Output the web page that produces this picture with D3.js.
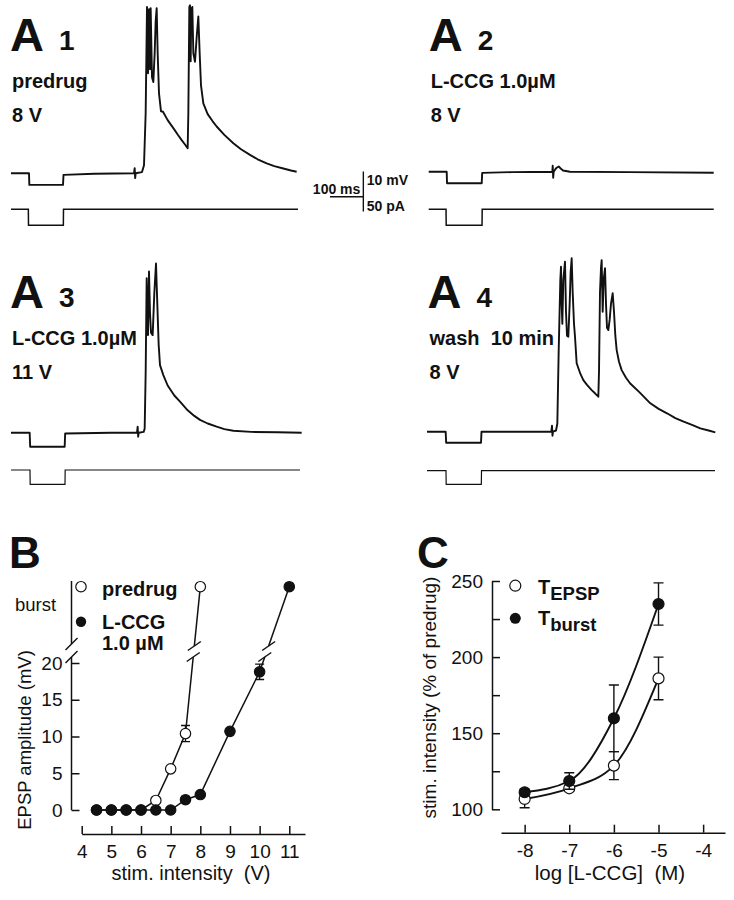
<!DOCTYPE html>
<html><head><meta charset="utf-8">
<script src="https://cdn.jsdelivr.net/npm/d3@7"></script>
<style>
body{margin:0;background:#fff}
svg{display:block}
text{font-family:"Liberation Sans",Arial,Helvetica,sans-serif;fill:#111;white-space:pre}
</style></head>
<body><svg id="c" width="734" height="900"></svg>
<script>
// ---------- DATA ----------
// Traces: [time (ms), membrane potential (mV, relative to rest)]
const a1Volt = [[0,0],[54,0],[55,-2.9],[156,-2.9],[157.5,-0.4],[250,-0.1],[369,0],[371,1.3],[372.5,-1.2],[374,0],[393,0.3],[399,2],[404,15],[408,41.6],[411,25],[414,41],[417,26],[419,41.3],[423,24],[427,22.8],[431,30],[434,38],[437,41.3],[440,30],[444,20],[450,15.5],[456,15.4],[470,13.3],[487,11.3],[500,9.7],[512,8.3],[522,7.2],[530,6.25],[532,15],[535,41.6],[537,42],[539,28],[541,41],[544,41.6],[547,30],[552,27.9],[557,34],[562,39.2],[566,30],[570,22],[577,17.5],[590,14.8],[605,13],[617,11.7],[640,9.6],[667,7.5],[690,6],[717,4.6],[740,3.5],[767,2.5],[790,1.8],[817,1.2],[840,0.7],[857,0.4]];
const a2Volt = [[0,0],[54,0],[55,-2.9],[159,-2.9],[160.5,-0.3],[250,-0.1],[371,0],[372,1.5],[373.5,-1.5],[375,0],[379,0.5],[384,1],[390,1.3],[396,0.8],[403,0.3],[424,0],[600,-0.1],[855,-0.25]];
const a3Volt = [[0,0],[56,0],[57.5,-3.5],[161,-3.5],[162.5,-0.2],[300,0],[378,0],[380,1.5],[381.5,-1],[383,0],[398,0.2],[401,1],[404,15],[407,38.6],[409,30],[411,24.4],[414,40.3],[417,30],[420,25],[425,24.4],[430,35],[435,42.3],[439,32],[443,22],[447,16.9],[457,14.4],[470,11.8],[490,9.3],[507,7.75],[530,5.6],[550,4.2],[567,3.2],[590,2.3],[617,1.5],[640,0.9],[667,0.5],[720,0.2],[800,0.1],[872,0]];
const a4Volt = [[0,0],[56,0],[57.5,-2.75],[162,-2.75],[163.5,0],[300,0],[373,0],[375,1.5],[376.5,-1],[378,0],[387,0.3],[391,2],[395,20],[400,38],[402,41.25],[404,32],[406,27],[409,38],[414,42.5],[417,30],[420,24],[424,23.75],[428,32],[431,40],[434,43.35],[437,35],[441,27],[444,23.75],[449,17.1],[460,14.5],[469,12.9],[480,11.7],[494,10.4],[504,9.6],[514,8.75],[516,15],[519,35],[522,41],[524,42.9],[527,30],[530,38],[534,40.85],[537,32],[540,26],[544,25.4],[548,28],[552,32],[557,34.6],[561,30],[565,24],[569,20.4],[576,17.5],[584,15.4],[597,13.5],[609,12.1],[620,11.25],[637,9.9],[670,7.1],[695,5.7],[720,4.6],[745,3.4],[770,2.5],[795,1.7],[820,0.85],[845,0.3],[865,-0.15]];
// Injected current: [time (ms), current (pA)]
const a1Curr = [[0,0],[52,0],[52.5,-20],[157,-20],[157.5,0],[861,0]];
const a2Curr = [[0,0],[52,0],[52.5,-20],[160,-20],[160.5,0],[855,0]];
const a3Curr = [[0,0],[57,0],[57.5,-18],[162,-18],[162.5,0],[867,0]];
const a4Curr = [[0,0],[57,0],[57.5,-17],[163,-17],[163.5,0],[864,0]];
const traceTitles = ["1","2","3","4"];
const traceLabels = [["predrug","8 V"],["L-CCG 1.0µM","8 V"],["L-CCG 1.0µM","11 V"],["wash  10 min","8 V"]];
const scaleBarTime = 100;   // ms
const scaleBarVolt = 10;    // mV
const scaleBarCurr = 50;    // pA
const scaleBarLabels = ["100 ms","10 mV","50 pA"];

// Panel B
const bXTicks = [4,5,6,7,8,9,10,11];
const bYTicks = [0,5,10,15,20];
const predrugX = [4.5,5,5.5,6,6.5,7,7.5,8];
const predrugY = [0,0,0,0,1.3,5.6,10.4,"burst"];
const predrugErr = [0,0,0,0,0,0,1.1,0];
const lccgX = [4.5,5,5.5,6,6.5,7,7.5,8,9,10,11];
const lccgY = [0,0,0,0,0,0,1.4,2.1,10.7,18.8,"burst"];
const lccgErr = [0,0,0,0,0,0,0,0,0,1.05,0];
const bLegend = ["predrug","L-CCG","1.0 µM"];

// Panel C
const cXTicks = [-8,-7,-6,-5,-4];
const cYTicks = [100,125,150,175,200,225,250];
const cYLabelled = [100,150,200,250];
const cLogConc = [-8,-7,-6,-5];
const tEpsp = [106.8,113.8,128.7,186];
const tEpspErr = [5.8,1.5,9.2,14];
const tBurst = [111.2,118.6,159.8,234.9];
const tBurstErr = [2,5.4,21.9,13.9];

// ---------- DRAWING ----------
const svg = d3.select("#c");
const INK = "#111";

function txt(x, y, s, size, weight, anchor) {
  return svg.append("text").attr("x", x).attr("y", y).text(s)
    .attr("font-size", size).attr("font-weight", weight || "normal")
    .attr("text-anchor", anchor || "start").attr("xml:space", "preserve");
}

// Trace panels
const tracePanels = [
  {x0: 11,    vBase: 173.3, iBase: 209.3, volt: a1Volt, curr: a1Curr, lx: 10,    ly: 51,  vw: 1.9, iw: 1.5},
  {x0: 428.7, vBase: 171.7, iBase: 209.3, volt: a2Volt, curr: a2Curr, lx: 428.7, ly: 51,  vw: 1.9, iw: 1.5},
  {x0: 11,    vBase: 432.7, iBase: 470,   volt: a3Volt, curr: a3Curr, lx: 10,    ly: 308, vw: 1.9, iw: 1.2},
  {x0: 427,   vBase: 431.7, iBase: 470.7, volt: a4Volt, curr: a4Curr, lx: 427.5, ly: 308, vw: 1.9, iw: 1.2}
];
tracePanels.forEach((p, k) => {
  const x = d3.scaleLinear().domain([0, 100]).range([p.x0, p.x0 + 100/3]);
  const yv = d3.scaleLinear().domain([0, 10]).range([p.vBase, p.vBase - 40]);
  const yi = d3.scaleLinear().domain([0, 50]).range([p.iBase, p.iBase - 40]);
  svg.append("path").attr("d", d3.line().x(d => x(d[0])).y(d => yv(d[1]))(p.volt))
    .attr("fill", "none").attr("stroke", INK).attr("stroke-width", p.vw).attr("stroke-linejoin", "round");
  svg.append("path").attr("d", d3.line().x(d => x(d[0])).y(d => yi(d[1]))(p.curr))
    .attr("fill", "none").attr("stroke", INK).attr("stroke-width", p.iw);
  txt(p.lx, p.ly, "A", 47, "bold");
  txt(p.lx + 49, p.ly - 1, traceTitles[k], 28, "bold");
  txt(p.lx + 2, p.ly + 37, traceLabels[k][0], 20, "bold");
  txt(p.lx + 2, p.ly + 70.5, traceLabels[k][1], 20, "bold");
});

// Scale bar
{
  const sx = d3.scaleLinear().domain([0, 100]).range([330, 330 + 100/3]);
  const sv = d3.scaleLinear().domain([0, 10]).range([211.5, 171.5]);
  const xEnd = sx(scaleBarTime);
  svg.append("line").attr("x1", sx(0)).attr("x2", xEnd).attr("y1", 196.7).attr("y2", 196.7)
    .attr("stroke", INK).attr("stroke-width", 1.4);
  svg.append("line").attr("x1", xEnd).attr("x2", xEnd).attr("y1", sv(0)).attr("y2", sv(scaleBarVolt))
    .attr("stroke", INK).attr("stroke-width", 1.4);
  txt(xEnd - 3, 194, scaleBarLabels[0], 14, "bold", "end");
  txt(xEnd + 3.5, 185, scaleBarLabels[1], 14, "bold");
  txt(xEnd + 3.5, 210.5, scaleBarLabels[2], 14, "bold");
}

// ---------- Panel B ----------
const xB = d3.scaleLinear().domain([4, 11.53]).range([81.7, 305]);
const yB = d3.scaleLinear().domain([0, 20]).range([810, 663]);
const yBurst = 586.7;
const yOf = v => v === "burst" ? yBurst : yB(v);
const axB = 71.5, xAxYB = 834;

txt(9, 568, "B", 44, "bold");

const gxB = svg.append("g").attr("transform", `translate(0,${xAxYB})`)
  .call(d3.axisBottom(xB).tickValues(bXTicks).tickSizeInner(-8).tickSizeOuter(0).tickPadding(10.5));
const gyB = svg.append("g").attr("transform", `translate(${axB},0)`)
  .call(d3.axisLeft(yB).tickValues(bYTicks).tickSizeInner(-8).tickSizeOuter(0).tickPadding(9));
gyB.select(".domain").remove();
[gxB, gyB].forEach(g => {
  g.selectAll("text").attr("font-size", 19).attr("fill", INK)
    .attr("font-family", '"Liberation Sans",Arial,sans-serif');
  g.selectAll("line,path").attr("stroke", INK).attr("stroke-width", 1.5);
});
svg.append("line").attr("x1", axB).attr("x2", axB).attr("y1", yB(0)).attr("y2", 657)
  .attr("stroke", INK).attr("stroke-width", 1.5);
svg.append("line").attr("x1", axB).attr("x2", axB).attr("y1", 644).attr("y2", 581)
  .attr("stroke", INK).attr("stroke-width", 1.5);
[644, 657].forEach(y => {
  svg.append("line").attr("x1", axB - 6).attr("x2", axB + 6).attr("y1", y + 6).attr("y2", y - 6)
    .attr("stroke", INK).attr("stroke-width", 1.5);
});

txt(15, 611, "burst", 18.5, "normal");
svg.append("text").attr("transform", "translate(31,740) rotate(-90)")
  .attr("text-anchor", "middle").attr("font-size", 18.5).text("EPSP amplitude (mV)");
txt(191, 880, "stim. intensity  (V)", 20, "normal", "middle");

function drawBSeries(xs, ys, errs, filled) {
  const pts = xs.map((x, i) => ({x: xB(x), y: yOf(ys[i]), v: ys[i], e: errs[i]}));
  const n = pts.length;
  const main = pts.slice(0, n - 1);
  const a = pts[n - 2], b = pts[n - 1];
  const at = yy => ({x: a.x + (b.x - a.x) * (yy - a.y) / (b.y - a.y), y: yy});
  const pLow = at(657), pHigh = at(646);
  const line = d3.line().x(d => d.x).y(d => d.y);
  svg.append("path").attr("d", line(main.concat([pLow]))).attr("fill", "none").attr("stroke", INK).attr("stroke-width", 1.5);
  svg.append("path").attr("d", line([pHigh, b])).attr("fill", "none").attr("stroke", INK).attr("stroke-width", 1.5);
  [pLow, pHigh].forEach(p => {
    svg.append("line").attr("x1", p.x - 6.5).attr("x2", p.x + 6.5).attr("y1", p.y + 4.5).attr("y2", p.y - 4.5)
      .attr("stroke", INK).attr("stroke-width", 1.5);
  });
  pts.forEach(p => {
    if (p.e > 0) {
      const y1 = yB(p.v - p.e), y2 = yB(p.v + p.e);
      svg.append("path").attr("d", `M${p.x},${y1}V${y2}M${p.x - 4.5},${y1}H${p.x + 4.5}M${p.x - 4.5},${y2}H${p.x + 4.5}`)
        .attr("stroke", INK).attr("stroke-width", 1.4).attr("fill", "none");
    }
  });
  pts.forEach(p => {
    svg.append("circle").attr("cx", p.x).attr("cy", p.y).attr("r", 5.2)
      .attr("fill", filled ? INK : "#fff").attr("stroke", INK).attr("stroke-width", 1.2);
  });
}
drawBSeries(predrugX, predrugY, predrugErr, false);
drawBSeries(lccgX, lccgY, lccgErr, true);

svg.append("circle").attr("cx", 81).attr("cy", 586.7).attr("r", 5.2).attr("fill", "#fff").attr("stroke", INK).attr("stroke-width", 1.2);
svg.append("circle").attr("cx", 81).attr("cy", 621.7).attr("r", 5.2).attr("fill", INK);
txt(102, 595.5, bLegend[0], 20, "bold");
txt(102, 629, bLegend[1], 20, "bold");
txt(102, 650, bLegend[2], 20, "bold");

// ---------- Panel C ----------
const xC = d3.scaleLinear().domain([-8.53, -3.51]).range([501, 725]);
const yC = d3.scaleLinear().domain([100, 250]).range([809.3, 581]);
const axC = 492;
txt(417, 568, "C", 44, "bold");

const gxC = svg.append("g").attr("transform", "translate(0,832.7)")
  .call(d3.axisBottom(xC).tickValues(cXTicks).tickSizeInner(-8).tickSizeOuter(0).tickPadding(10.5).tickFormat(d => d));
const gyC = svg.append("g").attr("transform", `translate(${axC},0)`)
  .call(d3.axisLeft(yC).tickValues(cYTicks).tickSizeInner(-8).tickSizeOuter(0).tickPadding(9)
    .tickFormat(d => cYLabelled.includes(d) ? d : ""));
[gxC, gyC].forEach(g => {
  g.selectAll("text").attr("font-size", 19).attr("fill", INK)
    .attr("font-family", '"Liberation Sans",Arial,sans-serif');
  g.selectAll("line,path").attr("stroke", INK).attr("stroke-width", 1.5);
});
svg.append("text").attr("transform", "translate(436,697.5) rotate(-90)")
  .attr("text-anchor", "middle").attr("font-size", 19).text("stim. intensity (% of predrug)");
txt(610, 880, "log [L-CCG]  (M)", 20.5, "normal", "middle");

function drawCSeries(ys, errs, filled) {
  const pts = cLogConc.map((x, i) => ({x: xC(x), y: yC(ys[i]), v: ys[i], e: errs[i]}));
  svg.append("path").attr("d", d3.line().x(d => d.x).y(d => d.y).curve(d3.curveMonotoneX)(pts))
    .attr("fill", "none").attr("stroke", INK).attr("stroke-width", 1.9);
  pts.forEach(p => {
    const y1 = yC(p.v - p.e), y2 = yC(p.v + p.e);
    svg.append("path").attr("d", `M${p.x},${y1}V${y2}M${p.x - 5},${y1}H${p.x + 5}M${p.x - 5},${y2}H${p.x + 5}`)
      .attr("stroke", INK).attr("stroke-width", 1.4).attr("fill", "none");
  });
  pts.forEach(p => {
    svg.append("circle").attr("cx", p.x).attr("cy", p.y).attr("r", 5.5)
      .attr("fill", filled ? INK : "#fff").attr("stroke", INK).attr("stroke-width", 1.2);
  });
}
drawCSeries(tEpsp, tEpspErr, false);
drawCSeries(tBurst, tBurstErr, true);

svg.append("circle").attr("cx", 515.3).attr("cy", 585.7).attr("r", 5.5).attr("fill", "#fff").attr("stroke", INK).attr("stroke-width", 1.2);
svg.append("circle").attr("cx", 515.3).attr("cy", 618.3).attr("r", 5.5).attr("fill", INK);
{
  const t1 = svg.append("text").attr("x", 538).attr("y", 594).attr("font-weight", "bold").attr("font-size", 20);
  t1.append("tspan").text("T");
  t1.append("tspan").attr("dy", 6).attr("font-size", 18.5).text("EPSP");
  const t2 = svg.append("text").attr("x", 538).attr("y", 625).attr("font-weight", "bold").attr("font-size", 20);
  t2.append("tspan").text("T");
  t2.append("tspan").attr("dy", 6).attr("font-size", 18.5).text("burst");
}
</script></body></html>
